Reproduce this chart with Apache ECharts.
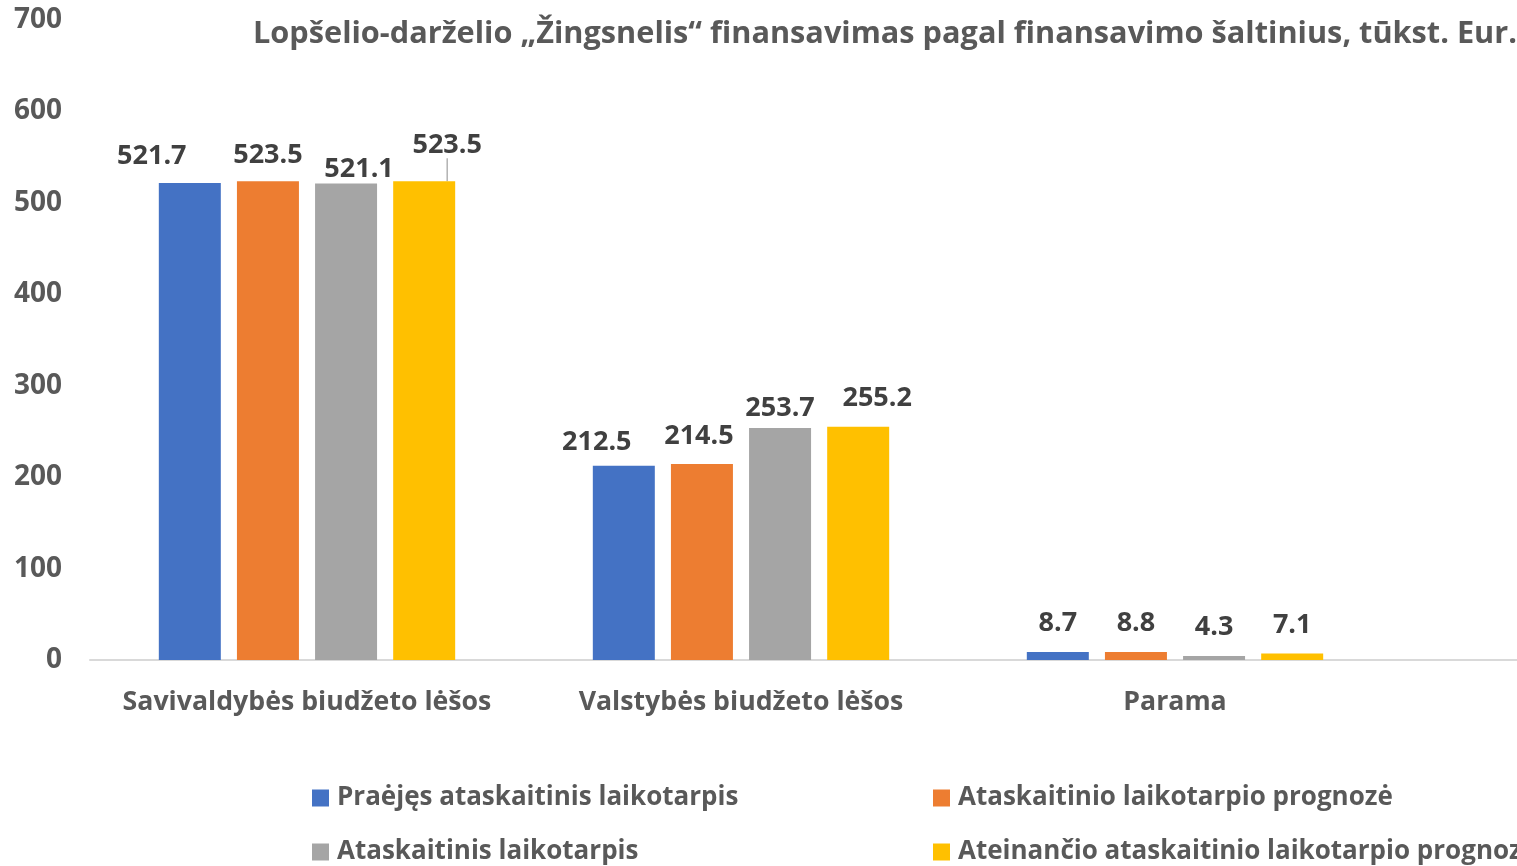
<!DOCTYPE html>
<html>
<head>
<meta charset="utf-8">
<script src="https://cdn.jsdelivr.net/npm/echarts@6/dist/echarts.min.js"></script>
<style>
  html, body { margin: 0; padding: 0; background: #fff; }
  #chart { width: 1517px; height: 866px; }
</style>
</head>
<body>
<div id="chart"></div>
<script>
// duomenys
const titleText = 'Lopšelio-darželio „Žingsnelis“ finansavimas pagal finansavimo šaltinius, tūkst. Eur.';
const categories = ['Savivaldybės biudžeto lėšos', 'Valstybės biudžeto lėšos', 'Parama', ''];
const seriesNames = [
  'Praėjęs ataskaitinis laikotarpis',
  'Ataskaitinio laikotarpio prognozė',
  'Ataskaitinis laikotarpis',
  'Ateinančio ataskaitinio laikotarpio prognozė'
];
const praejes = [521.7, 212.5, 8.7, null];
const prognoze = [523.5, 214.5, 8.8, null];
const ataskaitinis = [521.1, 253.7, 4.3, null];
const ateinancio = [523.5, 255.2, 7.1, null];
const yTicks = [0, 100, 200, 300, 400, 500, 600, 700];

const colors = ['#4472C4', '#ED7D31', '#A5A5A5', '#FFC000'];
const font = '"Open Sans", sans-serif';

// label poslinkiai, kaip Excel'yje (ranka patampyti)
const labelShift = {
  '0-0': { dx: -38, dy: 2 },
  '1-0': { dy: 2 },
  '2-0': { dx: 13, dy: 14 },
  '3-0': { dx: 23, dy: -8 },
  '0-1': { dx: -27, dy: 5 },
  '1-1': { dx: -3, dy: 1 },
  '2-1': { dy: 9 },
  '3-1': { dx: 19 }
};

const values = [praejes, prognoze, ataskaitinis, ateinancio];

const series = values.map((arr, i) => ({
  name: seriesNames[i],
  type: 'bar',
  data: arr.map((v, j) => (i === 3 && j === 0)
    ? { value: v, labelLine: { show: true } }
    : v),
  barWidth: 62,
  barGap: '26%',
  itemStyle: { color: colors[i] },
  label: {
    show: true,
    position: 'top',
    distance: 15,
    color: '#404040',
    fontFamily: font,
    fontWeight: 'bold',
    fontSize: 27
  },
  labelLine: { show: false, lineStyle: { color: '#A6A6A6', width: 1.3 } },
  labelLayout: (p) => labelShift[i + '-' + p.dataIndex] || {}
}));

const legendPos = [
  { left: 312, top: 785 },
  { left: 933, top: 785 },
  { left: 312, top: 839 },
  { left: 933, top: 839 }
];

const legends = seriesNames.map((n, i) => ({
  data: [n],
  left: legendPos[i].left,
  top: legendPos[i].top,
  padding: 0,
  icon: 'rect',
  itemWidth: 17,
  itemHeight: 17,
  selectedMode: false,
  textStyle: {
    color: '#595959',
    fontFamily: font,
    fontWeight: 'bold',
    fontSize: 26,
    padding: [0, 0, 0, 3]
  }
}));

const chart = echarts.init(document.getElementById('chart'));
chart.setOption({
  animation: false,
  title: {
    text: titleText,
    left: 248,
    top: 14,
    textStyle: {
      color: '#595959',
      fontFamily: font,
      fontWeight: 'bold',
      fontSize: 30.7
    }
  },
  legend: legends,
  // plotas platesnis uz langa (ketvirta kategorija nukirpta)
  grid: {
    left: 90, width: 1736, top: 20, bottom: 206,
    containLabel: false,
    outerBoundsMode: 'none'
  },
  xAxis: {
    type: 'category',
    data: categories,
    axisLine: { lineStyle: { color: '#D9D9D9', width: 2 } },
    axisTick: { show: false },
    axisLabel: {
      interval: 0,
      margin: 29,
      color: '#595959',
      fontFamily: font,
      fontWeight: 'bold',
      fontSize: 26.7
    }
  },
  yAxis: {
    type: 'value',
    min: yTicks[0],
    max: yTicks[yTicks.length - 1],
    interval: 100,
    splitLine: { show: false },
    axisLine: { show: false },
    axisTick: { show: false },
    axisLabel: {
      margin: 28,
      color: '#595959',
      fontFamily: font,
      fontWeight: 'bold',
      fontSize: 28
    }
  },
  series: series
});
</script>
</body>
</html>
